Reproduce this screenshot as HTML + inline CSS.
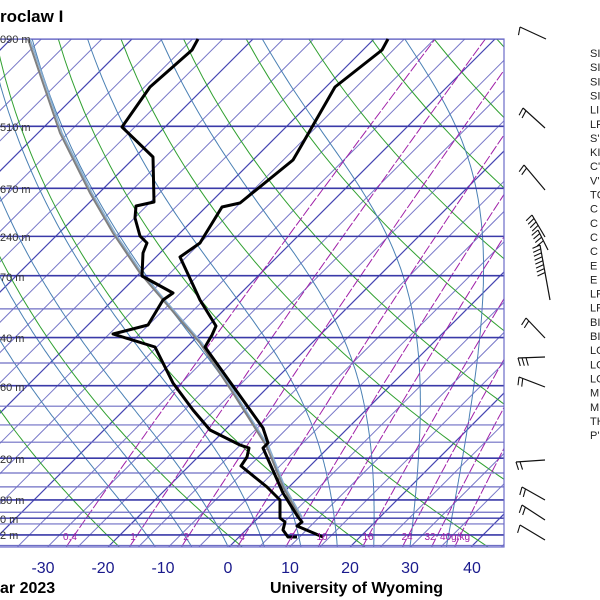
<!DOCTYPE html>
<html><head><meta charset="utf-8"><style>
html,body{margin:0;padding:0;background:#fff;width:600px;height:600px;overflow:hidden}
svg{display:block}
text{font-family:"Liberation Sans",Arial,sans-serif}
</style></head><body>
<svg id="s" width="600" height="600" viewBox="0 0 600 600" xmlns="http://www.w3.org/2000/svg">
<defs><clipPath id="c"><rect x="0" y="39" width="504" height="508"/></clipPath></defs>
<g id="grid" clip-path="url(#c)"></g>
<g id="prof"></g>
<g id="txt"></g>
</svg>
<script>
const NS="http://www.w3.org/2000/svg";
const G=document.getElementById('grid'),P=document.getElementById('prof'),T=document.getElementById('txt');
function el(p,tag,a,txt){const e=document.createElementNS(NS,tag);for(const k in a)e.setAttribute(k,a[k]);if(txt!==undefined)e.textContent=txt;p.appendChild(e);return e;}
function Y(p){return 39+215.4*Math.log(p/100);}
function X(t,y){return 229+6.05*t+(547-y);}
function poly(g,pts,a){a.points=pts.map(q=>q[0].toFixed(1)+','+q[1].toFixed(1)).join(' ');a.fill='none';el(g,'polyline',a);}
for(let t=-200;t<=60;t+=5){const y1=547,y0=39;const d=(t%20==0);poly(G,[[X(t,y1),y1],[X(t,y0),y0]],{stroke:d?'#4646b2':'#7878c8','stroke-width':d?1.2:1});}
for(let th=191;th<=631;th+=20){const pts=[];for(let p=1060;p>=95;p-=10){const y=Y(p);const t=th*Math.pow(p/1000,0.286)-273.15;pts.push([X(t,y),y]);}poly(G,pts,{stroke:'#30a030','stroke-width':1});}
function es(t){return 6.112*Math.exp(17.67*t/(t+243.5));}
for(let t0=-12;t0<=40;t0+=6){let T=t0+273.15,p=1060;const pts=[];while(p>=95){const y=Y(p);pts.push([X(T-273.15,y),y]);const e=es(T-273.15),rs=0.622*e/(p-e);const d=(287*T+2.5e6*rs)/(1004+2.5e6*2.5e6*rs*0.622/(287*T*T));const dl=Math.log((p-5)/p);T+=d*dl;p-=5;}poly(G,pts,{stroke:'#4a80b4','stroke-width':1});}
const ws=[0.4,1,2,4,7,10,16,24,32,40];
for(const w of ws){const pts=[];for(let p=1060;p>=95;p-=10){const y=Y(p);const e=w*p/(622+w);const l=Math.log(e/6.112);const td=243.5*l/(17.67-l);pts.push([X(td,y),y]);}poly(G,pts,{stroke:'#a020a8','stroke-width':1,'stroke-dasharray':'10,2'});}
for(let p=100;p<=1050;p+=50){const y=Y(p);const m=[100,150,200,250,300,400,500,700,850,925,1000].includes(p);el(G,'line',{x1:0,x2:504,y1:y,y2:y,stroke:m?'#3a3aa8':'#6e6ec4','stroke-width':m?1.6:1.2});}
{const y=Y(925);el(G,'line',{x1:0,x2:504,y1:y,y2:y,stroke:'#3a3aa8','stroke-width':1.3});}
el(P,'rect',{x:-2,y:39,width:506,height:508,fill:'none',stroke:'#6a6ac8','stroke-width':1.2});
const wx=[70,133,186,242,292,322,368,407,430];const wl=['0.4','1','2','4','7','10','16','24','32'];
wl.forEach((s,i)=>el(T,'text',{x:wx[i],y:540,'font-size':10,fill:'#a020a8','text-anchor':'middle'},s));
el(T,'text',{x:440,y:540,'font-size':10,fill:'#a020a8','text-anchor':'start'},'40g/kg');
const par=[[28,39],[60,133],[90,193],[113,233],[140,273],[163,300],[200,343],[233,393],[267,447],[283,487],[300,517]];
poly(P,par.map(q=>[q[0]+2,q[1]]),{stroke:'#8aaed0','stroke-width':1.5});
poly(P,par,{stroke:'#808080','stroke-width':2});
poly(P,[[198,39],[192,50],[150,87],[122,127],[153,157],[154,202],[136,206],[135,218],[140,236],[147,243],[143,253],[142,276],[173,293],[163,300],[148,325],[113,334],[155,347],[173,383],[193,410],[210,430],[240,445],[249,448],[247,457],[241,466],[267,487],[280,500],[280,518],[285,522],[283,530],[288,537],[297,537]],{stroke:'#000','stroke-width':3,'stroke-linejoin':'round'});
poly(P,[[388,39],[382,50],[335,87],[300,148],[293,160],[240,203],[222,207],[203,238],[200,243],[180,257],[200,300],[216,326],[212,335],[205,347],[263,428],[268,443],[263,448],[283,493],[298,517],[302,522],[297,526],[323,537]],{stroke:'#000','stroke-width':3,'stroke-linejoin':'round'});
[[39,'090 m'],[127,'510 m'],[189,'670 m'],[237,'240 m'],[277,'70 m'],[338,'40 m'],[387,'60 m'],[459,'20 m'],[500,'80 m'],[519,'0 m'],[535,'2 m']].forEach(a=>{el(T,'text',{x:0,y:a[0]+4,'font-size':11,fill:'#333'},a[1]);});
[[-30,43],[-20,103],[-10,163],[0,228],[10,290],[20,350],[30,410],[40,472]].forEach(a=>el(T,'text',{x:a[1],y:573,'font-size':16,fill:'#1a1a8c','text-anchor':'middle'},String(a[0])));
el(T,'text',{x:0,y:22,'font-size':17,'font-weight':'bold',fill:'#000'},'roclaw I');
el(T,'text',{x:0,y:593,'font-size':16,'font-weight':'bold',fill:'#000'},'ar 2023');
el(T,'text',{x:270,y:593,'font-size':16,'font-weight':'bold',fill:'#000'},'University of Wyoming');
['SI','SI','SI','SI','LI','LF','S\'','KI','C\'','V\'','TC','C','C','C','C','E','E','LF','LF','BI','BI','LC','LC','LC','M','M','TH','P\''].forEach((s,i)=>el(T,'text',{x:590,y:57+i*14.15,'font-size':11,fill:'#222'},s));
const B=[[546,39,520,27,1],[545,128,523,108,2],[545,190,524,165,2],[545,237,532,215,4],[548,250,538,230,4],[550,300,540,245,8],[545,338,526,318,2],[545,357,518,358,3],[545,387,519,377,2],[545,460,516,462,2],[545,500,522,487,2],[545,520,522,505,2],[545,540,520,525,1]];
B.forEach(b=>{el(P,'line',{x1:b[0],y1:b[1],x2:b[2],y2:b[3],stroke:'#111','stroke-width':1.2});const dx=b[2]-b[0],dy=b[3]-b[1],L=Math.hypot(dx,dy),ux=dx/L,uy=dy/L;for(let k=0;k<b[4];k++){const bx=b[2]-ux*k*4,by=b[3]-uy*k*4;el(P,'line',{x1:bx,y1:by,x2:bx+uy*8-ux*2,y2:by-ux*8-uy*2,stroke:'#111','stroke-width':1.1});}});
</script>
</body></html>
